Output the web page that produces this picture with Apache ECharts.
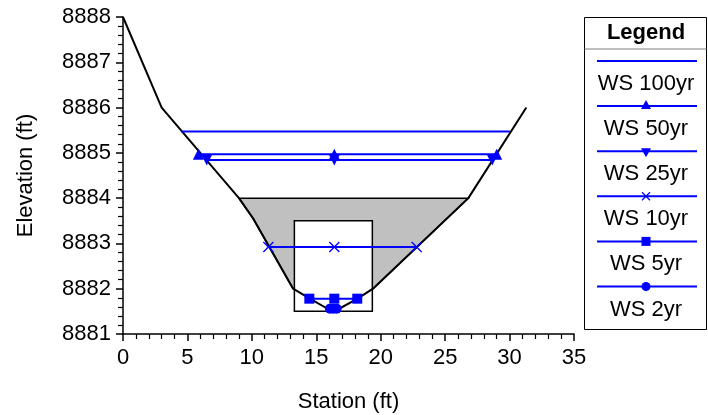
<!DOCTYPE html>
<html>
<head>
<meta charset="utf-8">
<script src="https://cdn.jsdelivr.net/npm/echarts@6/dist/echarts.min.js"></script>
<style>
  html, body { margin: 0; padding: 0; background: #fff; }
  #chart { width: 708px; height: 415px; }
</style>
</head>
<body>
<div id="chart"></div>
<script>
// ground profile
const groundX = [0, 3, 9, 10.1, 13.2, 14.5, 16.05, 16.6, 18.2, 19.4, 26.8, 31.3];
const groundY = [8888, 8886, 8884, 8883.55, 8882, 8881.78, 8881.53, 8881.53, 8881.78, 8882, 8884, 8886];

// ineffective (grey) area top and limits
const ineffElev = 8884;
const ineffLeft = 9;
const ineffRight = 26.8;

// box
const boxX = [13.3, 19.35];
const boxY = [8881.5, 8883.5];

// water surfaces
const wsNames = ['WS 100yr', 'WS 50yr', 'WS 25yr', 'WS 10yr', 'WS 5yr', 'WS 2yr'];
const wsElev = [8885.47, 8884.97, 8884.84, 8882.92, 8881.78, 8881.56];
const wsLeft = [4.5, 5.85, 6.5, 11.28, 14.46, 16.06];
const wsMid = [null, 16.4, 16.4, 16.4, 16.4, 16.32];
const wsRight = [30.03, 29.0, 28.66, 22.79, 18.18, 16.58];

const BLUE = '#0000ff';
const FONT = 'Liberation Sans, Arial, sans-serif';
const symbols = ['none', 'triangle', 'triangle', 'path://M0,0L10,10M10,0L0,10', 'rect', 'circle'];
const symRot = [0, 0, 180, 0, 0, 0];
const symSize = [0, 11, 11, 10, 10, 10];

const chart = echarts.init(document.getElementById('chart'));

// grey polygon: top line then back along the ground
const polyPts = [[ineffLeft, ineffElev], [ineffRight, ineffElev]];
for (let i = groundX.length - 1; i >= 0; i--) {
  if (groundX[i] >= ineffLeft && groundX[i] <= ineffRight) polyPts.push([groundX[i], groundY[i]]);
}

const series = [];
series.push({
  type: 'custom',
  z: 1,
  silent: true,
  data: [[ineffLeft, ineffElev]],
  renderItem: function (params, api) {
    return {
      type: 'polygon',
      shape: { points: polyPts.map(p => api.coord(p)) },
      style: { fill: '#c0c0c0', stroke: '#000', lineWidth: 1.5 }
    };
  }
});
series.push({
  type: 'custom',
  z: 2,
  silent: true,
  data: [[boxX[0], boxY[0]]],
  renderItem: function (params, api) {
    const p1 = api.coord([boxX[0], boxY[1]]);
    const p2 = api.coord([boxX[1], boxY[0]]);
    return {
      type: 'rect',
      shape: { x: p1[0], y: p1[1], width: p2[0] - p1[0], height: p2[1] - p1[1] },
      style: { fill: '#fff', stroke: '#000', lineWidth: 1.5 }
    };
  }
});
series.push({
  type: 'line',
  z: 3,
  symbol: 'none',
  data: groundX.map((x, i) => [x, groundY[i]]),
  lineStyle: { color: '#000', width: 2 }
});
wsNames.forEach((name, i) => {
  const pts = wsMid[i] === null
    ? [[wsLeft[i], wsElev[i]], [wsRight[i], wsElev[i]]]
    : [[wsLeft[i], wsElev[i]], [wsMid[i], wsElev[i]], [wsRight[i], wsElev[i]]];
  const isX = i === 3;
  series.push({
    name: name,
    type: 'line',
    z: 4,
    data: pts,
    symbol: symbols[i],
    symbolSize: symSize[i],
    symbolRotate: symRot[i],
    showSymbol: symbols[i] !== 'none',
    lineStyle: { color: BLUE, width: 2 },
    itemStyle: isX
      ? { color: 'rgba(0,0,0,0)', borderColor: BLUE, borderWidth: 1.3 }
      : { color: BLUE, borderWidth: 0 }
  });
});

// legend box drawn by hand (line above label)
const legLeft = 584.5, legTop = 17.5, legW = 122, legH = 312;
const legCx = 646;
const graphics = [
  { type: 'rect', shape: { x: legLeft, y: legTop, width: legW, height: legH },
    style: { fill: '#fff', stroke: '#000', lineWidth: 1 }, z: 10 },
  { type: 'line', shape: { x1: legLeft, y1: 49, x2: legLeft + legW, y2: 49 },
    style: { stroke: '#808080', lineWidth: 1 }, z: 11 },
  { type: 'text', x: legCx, y: 33, z: 11,
    style: { text: 'Legend', font: 'bold 22px ' + FONT, fill: '#000', align: 'center', verticalAlign: 'middle' } }
];
wsNames.forEach((name, i) => {
  const ly = 61 + i * 45.1;
  graphics.push({ type: 'line', z: 11, shape: { x1: 597, y1: ly, x2: 697, y2: ly },
    style: { stroke: BLUE, lineWidth: 2 } });
  const s = 5;
  if (i === 1) graphics.push({ type: 'polygon', z: 12, shape: { points: [[legCx - s, ly + 3], [legCx + s, ly + 3], [legCx, ly - 6]] }, style: { fill: BLUE } });
  if (i === 2) graphics.push({ type: 'polygon', z: 12, shape: { points: [[legCx - s, ly - 3], [legCx + s, ly - 3], [legCx, ly + 6]] }, style: { fill: BLUE } });
  if (i === 3) graphics.push({ type: 'polyline', z: 12, shape: { points: [[legCx - 4, ly - 4], [legCx + 4, ly + 4]] }, style: { stroke: BLUE, lineWidth: 1.3 } },
                             { type: 'polyline', z: 12, shape: { points: [[legCx + 4, ly - 4], [legCx - 4, ly + 4]] }, style: { stroke: BLUE, lineWidth: 1.3 } });
  if (i === 4) graphics.push({ type: 'rect', z: 12, shape: { x: legCx - 4.5, y: ly - 4.5, width: 9, height: 9 }, style: { fill: BLUE } });
  if (i === 5) graphics.push({ type: 'circle', z: 12, shape: { cx: legCx, cy: ly, r: 4.5 }, style: { fill: BLUE } });
  graphics.push({ type: 'text', z: 11, x: legCx, y: ly + 23,
    style: { text: name, font: '22px ' + FONT, fill: '#000', align: 'center', verticalAlign: 'middle' } });
});

chart.setOption({
  animation: false,
  backgroundColor: '#fff',
  grid: { left: 123, right: 134, top: 17, bottom: 81, containLabel: false, outerBoundsMode: 'none' },
  xAxis: {
    type: 'value',
    min: 0, max: 35, interval: 5,
    name: 'Station (ft)',
    nameLocation: 'middle',
    nameGap: 57,
    nameTextStyle: { fontSize: 22, fontFamily: FONT, color: '#000' },
    axisLine: { lineStyle: { color: '#000', width: 1.5 } },
    axisTick: { length: 7, lineStyle: { color: '#000', width: 1.5 } },
    minorTick: { show: true, splitNumber: 5, length: 5, lineStyle: { color: '#000', width: 1.2 } },
    axisLabel: { fontSize: 22, fontFamily: FONT, color: '#000', margin: 13 },
    splitLine: { show: false }
  },
  yAxis: {
    type: 'value',
    min: 8881, max: 8888, interval: 1,
    name: 'Elevation (ft)',
    nameLocation: 'middle',
    nameGap: 86,
    nameTextStyle: { fontSize: 22, fontFamily: FONT, color: '#000' },
    axisLine: { show: true, lineStyle: { color: '#000', width: 1.5 } },
    axisTick: { show: true, length: 7, lineStyle: { color: '#000', width: 1.5 } },
    minorTick: { show: true, splitNumber: 5, length: 5, lineStyle: { color: '#000', width: 1.2 } },
    axisLabel: { fontSize: 22, fontFamily: FONT, color: '#000', margin: 12, formatter: v => String(v) },
    splitLine: { show: false }
  },
  graphic: graphics,
  series: series
});
</script>
</body>
</html>
